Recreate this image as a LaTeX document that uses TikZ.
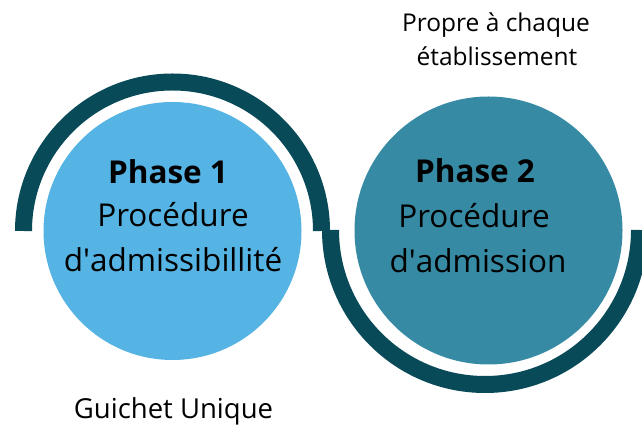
\documentclass[tikz,border=0pt]{standalone}
\usepackage{fontspec}
\setmainfont{Open Sans}
\definecolor{lightblue}{RGB}{86,180,228}
\definecolor{tealc}{RGB}{54,138,163}
\definecolor{darkc}{RGB}{8,74,87}
\begin{document}
\begin{tikzpicture}[x=1pt,y=1pt,
  band/.style={draw=darkc, line width=17pt, line cap=butt},
  big/.style={anchor=base, font=\fontsize{31.5}{36}\selectfont, text=black, inner sep=0pt},
  bigb/.style={big, font=\bfseries\fontsize{31.5}{36}\selectfont},
  small/.style={anchor=base, font=\fontsize{24.5}{28}\selectfont, text=black, inner sep=0pt}]
\useasboundingbox (0,0) rectangle (642,425);
\clip (0,0) rectangle (642,425);
\coordinate (c1) at (172.5,194);
\coordinate (c2) at (485,195);
% arcs
\draw[band] (c1) ++(-149,0) arc[start angle=180, end angle=0, radius=149];
\draw[band] (c2) ++(-154.5,0) arc[start angle=180, end angle=360, radius=154.5];
% circles
\node[circle, fill=lightblue, minimum size=258pt, inner sep=0pt] (circ1) at (c1) {};
\node[circle, fill=tealc, minimum size=268pt, inner sep=0pt] (circ2) at (488.5,194.5) {};
% texts circle 1
\node[bigb] (p1) at (168,241) {Phase 1};
\node[big] (p1a) at (173,198) {Procédure};
\node[big] (p1b) at (173,153) {d\textquotesingle admissibillité};
% texts circle 2
\node[bigb] (p2) at (475,242) {Phase 2};
\node[big] (p2a) at (474,197) {Procédure};
\node[big] (p2b) at (478,152) {d\textquotesingle admission};
% outer labels
\node[small] (top1) at (496,393) {Propre à chaque};
\node[small] (top2) at (497,359) {établissement};
\node[small, font=\fontsize{27.5}{31}\selectfont] (bot) at (173.5,6) {Guichet Unique};
\end{tikzpicture}
\end{document}
